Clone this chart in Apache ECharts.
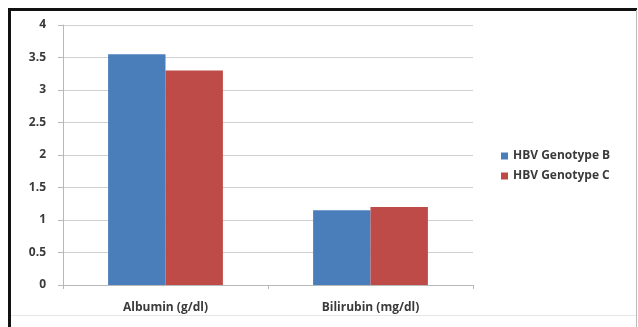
<!DOCTYPE html>
<html>
<head>
<meta charset="utf-8">
<script src="https://cdn.jsdelivr.net/npm/echarts@6/dist/echarts.min.js"></script>
<style>
  html, body { margin: 0; padding: 0; background: #fff; }
  #chart { width: 638px; height: 327px; }
</style>
</head>
<body>
<div id="chart"></div>
<script>
// Mean laboratory values by HBV genotype
const categories = ['Albumin (g/dl)', 'Bilirubin (mg/dl)'];
const genotypeB = [3.55, 1.15];
const genotypeC = [3.3, 1.2];
const seriesNames = ['HBV Genotype B', 'HBV Genotype C'];
const yTicks = [0, 0.5, 1, 1.5, 2, 2.5, 3, 3.5, 4];

const chart = echarts.init(document.getElementById('chart'), null, { renderer: 'canvas' });

const textFont = { fontFamily: 'Open Sans', fontWeight: 'bold', fontSize: 12, color: '#3a3a3a' };

chart.setOption({
  animation: false,
  backgroundColor: '#ffffff',
  graphic: [
    // frame: heavy top and left edge, light right and bottom edge
    { type: 'rect', shape: { x: 9, y: 8, width: 628, height: 3 }, style: { fill: '#111' } },
    { type: 'rect', shape: { x: 8, y: 8, width: 3, height: 319 }, style: { fill: '#111' } },
    { type: 'line', shape: { x1: 636.5, y1: 10, x2: 636.5, y2: 327 }, style: { stroke: '#bbb', lineWidth: 1 } },
    { type: 'line', shape: { x1: 11, y1: 315.5, x2: 636, y2: 315.5 }, style: { stroke: '#e6e6e6', lineWidth: 1 } }
  ],
  grid: { left: 63, right: 165, top: 25, bottom: 42, containLabel: false },
  legend: {
    orient: 'vertical',
    left: 496,
    top: 145,
    itemWidth: 7,
    itemHeight: 7,
    itemGap: 8,
    icon: 'rect',
    textStyle: Object.assign({}, textFont, { fontSize: 12 }),
    data: seriesNames
  },
  xAxis: {
    type: 'category',
    data: categories,
    axisLine: { show: true, lineStyle: { color: '#b8b8b8' } },
    axisTick: { show: true, length: 4, lineStyle: { color: '#b8b8b8' } },
    axisLabel: Object.assign({}, textFont, { margin: 17 })
  },
  yAxis: {
    type: 'value',
    min: 0,
    max: 4,
    interval: 0.5,
    axisLine: { show: true, lineStyle: { color: '#b8b8b8' } },
    axisTick: { show: true, length: 5, lineStyle: { color: '#b8b8b8' } },
    splitLine: { show: true, lineStyle: { color: '#d0d0d0' } },
    axisLabel: Object.assign({}, textFont, {
      margin: 17,
      formatter: v => (yTicks.indexOf(v) >= 0 ? String(v) : '')
    })
  },
  series: [
    {
      name: seriesNames[0],
      type: 'bar',
      data: genotypeB,
      barGap: '0%',
      barCategoryGap: '44%',
      itemStyle: { color: '#4a7ebb' }
    },
    {
      name: seriesNames[1],
      type: 'bar',
      data: genotypeC,
      barGap: '0%',
      barCategoryGap: '44%',
      itemStyle: { color: '#be4b48' }
    }
  ]
});
</script>
</body>
</html>
